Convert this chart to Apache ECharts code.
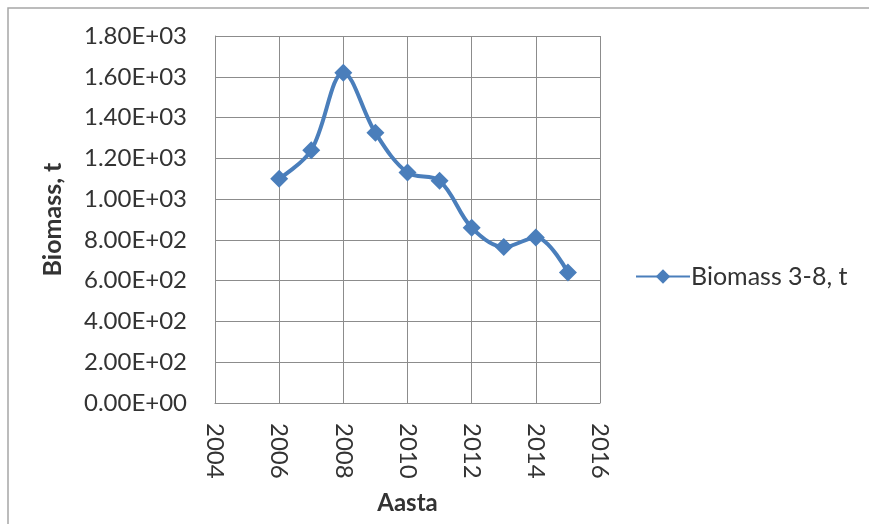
<!DOCTYPE html>
<html>
<head>
<meta charset="utf-8">
<script src="https://cdn.jsdelivr.net/npm/echarts@6/dist/echarts.min.js"></script>
<style>
  html, body { margin: 0; padding: 0; background: #fff; }
  #chart { width: 869px; height: 524px; }
</style>
</head>
<body>
<div id="chart"></div>
<script>
// Survey years and biomass (ages 3-8), tonnes
const years = [2006, 2007, 2008, 2009, 2010, 2011, 2012, 2013, 2014, 2015];
const biomass = [1100, 1240, 1620, 1325, 1130, 1090, 860, 765, 812, 640];
const seriesName = 'Biomass 3-8, t';

const FONT = 'Lato';
const TEXT = '#333333';
const GRID = '#8c8c8c';
const BLUE = '#4A7EBB';

// "1.80E+03" style labels
function sci(v) {
  if (v === 0) return '0.00E+00';
  const e = Math.floor(Math.log10(Math.abs(v)));
  const m = v / Math.pow(10, e);
  const es = (e < 0 ? '-' : '+') + String(Math.abs(e)).padStart(2, '0');
  return m.toFixed(2) + 'E' + es;
}

const chart = echarts.init(document.getElementById('chart'));
chart.setOption({
  animation: false,
  textStyle: { fontFamily: FONT },
  graphic: [{
    type: 'rect',
    shape: { x: 8, y: 8, width: 900, height: 600 },
    style: { fill: 'none', stroke: '#a6a6a6', lineWidth: 1.5 },
    silent: true
  }],
  grid: { left: 215, right: 269, top: 36, bottom: 121 },
  legend: {
    left: 630, top: 259,
    itemWidth: 54, itemHeight: 18, itemGap: 0,
    textStyle: { fontFamily: FONT, fontSize: 25, color: TEXT, padding: [0, 0, 0, -4] },
    data: [seriesName]
  },
  xAxis: {
    type: 'value', min: 2004, max: 2016, interval: 2,
    name: 'Aasta', nameLocation: 'middle', nameGap: 88,
    nameTextStyle: { fontFamily: FONT, fontSize: 24, fontWeight: 'bold', color: TEXT },
    axisLine: { show: true, lineStyle: { color: GRID, width: 1 } },
    axisTick: { show: false },
    splitLine: { show: true, lineStyle: { color: GRID, width: 1 } },
    axisLabel: { rotate: -90, margin: 20, fontSize: 24, color: TEXT, fontFamily: FONT,
                 formatter: v => String(v) }
  },
  yAxis: {
    type: 'value', min: 0, max: 1800, interval: 200,
    name: 'Biomass, t', nameLocation: 'middle', nameGap: 150,
    nameTextStyle: { fontFamily: FONT, fontSize: 25, fontWeight: 'bold', color: TEXT },
    axisLine: { show: true, lineStyle: { color: GRID, width: 1 } },
    axisTick: { show: false },
    splitLine: { show: true, lineStyle: { color: GRID, width: 1 } },
    axisLabel: { margin: 28, fontSize: 24, color: TEXT, fontFamily: FONT, formatter: sci }
  },
  series: [{
    name: seriesName,
    type: 'line',
    data: years.map((y, i) => [y, biomass[i]]),
    smooth: 0.35,
    symbol: 'diamond',
    symbolSize: 18,
    lineStyle: { color: BLUE, width: 4 },
    itemStyle: { color: BLUE }
  }]
});
</script>
</body>
</html>
